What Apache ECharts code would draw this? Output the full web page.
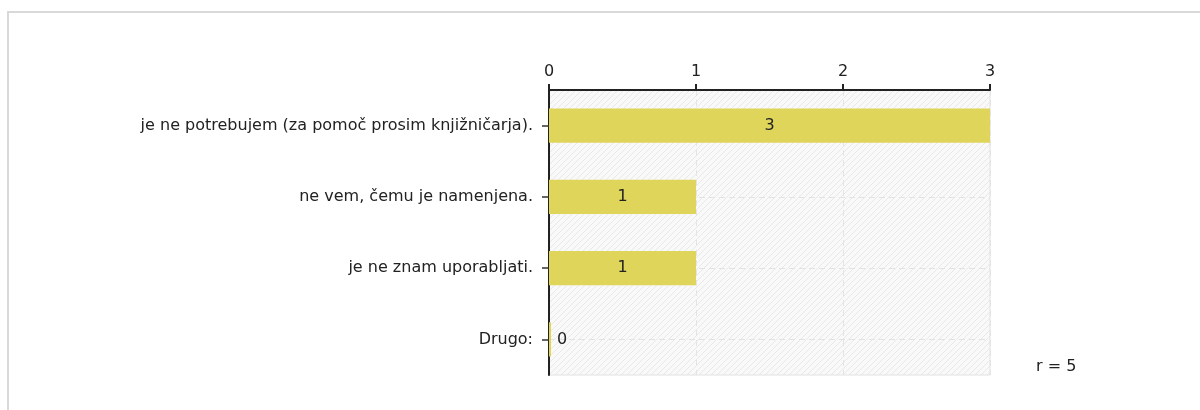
<!DOCTYPE html>
<html>
<head>
<meta charset="utf-8">
<script src="https://cdn.jsdelivr.net/npm/echarts@6/dist/echarts.min.js"></script>
<style>
html,body{margin:0;padding:0;background:#fff;}
#chart{width:1200px;height:410px;}
</style>
</head>
<body>
<div id="chart"></div>
<script>
const categories = [
  'je ne potrebujem (za pomoč prosim knjižničarja).',
  'ne vem, čemu je namenjena.',
  'je ne znam uporabljati.',
  'Drugo:'
];
const counts = [3, 1, 1, 0];
const xTicks = [0, 1, 2, 3];
const respondents = 5;

function hatch() {
  const c = document.createElement('canvas');
  c.width = 6; c.height = 6;
  const g = c.getContext('2d');
  g.fillStyle = '#f9f9f9';
  g.fillRect(0, 0, 6, 6);
  g.strokeStyle = '#e8e8e8';
  g.lineWidth = 1;
  g.beginPath();
  g.moveTo(-1, 7); g.lineTo(7, -1);
  g.moveTo(-1, 1); g.lineTo(1, -1);
  g.moveTo(5, 7); g.lineTo(7, 5);
  g.stroke();
  return c;
}

const font = 'DejaVu Sans';
const chart = echarts.init(document.getElementById('chart'), null, {renderer: 'canvas'});
chart.setOption({
  animation: false,
  backgroundColor: '#fff',
  textStyle: {fontFamily: font},
  graphic: [{
    type: 'rect', z: -10, silent: true,
    shape: {x: 8, y: 12, width: 1250, height: 450},
    style: {fill: 'none', stroke: '#d9d9d9', lineWidth: 2}
  }, {
    type: 'text', left: 1036, top: 359,
    style: {text: 'r = ' + respondents, font: '16px "DejaVu Sans"', fill: '#222'}
  }],
  grid: {
    left: 549, right: 210, top: 90, bottom: 35,
    show: true,
    backgroundColor: {image: hatch(), repeat: 'repeat'},
    borderColor: '#e2e2e2', borderWidth: 1
  },
  xAxis: {
    type: 'value', position: 'top', min: xTicks[0], max: xTicks[xTicks.length - 1], interval: 1,
    axisLine: {show: true, lineStyle: {color: '#222', width: 2}},
    axisTick: {show: true, length: 6, lineStyle: {color: '#222', width: 2}},
    axisLabel: {color: '#222', fontSize: 16, margin: 10, fontFamily: font},
    splitLine: {show: true, lineStyle: {color: '#e4e4e4', type: [6, 4]}}
  },
  yAxis: {
    type: 'category', inverse: true, data: categories,
    axisLine: {show: true, lineStyle: {color: '#222', width: 2}},
    axisTick: {show: true, alignWithLabel: true, length: 7, lineStyle: {color: '#333', width: 1.5}},
    axisLabel: {color: '#222', fontSize: 16, margin: 16, fontFamily: font},
    splitLine: {show: false}
  },
  series: [{
    type: 'bar',
    barWidth: '48%',
    barMinHeight: 2,
    itemStyle: {color: '#e0d55b'},
    label: {show: true, position: 'inside', color: '#222', fontSize: 16, fontFamily: font},
    data: counts.map(v => v === 0 ? {value: v, label: {position: 'right', distance: 6}} : v),
    markLine: {
      silent: true, z: 1, symbol: 'none',
      label: {show: false},
      lineStyle: {color: '#e2e2e2', type: [6, 4], width: 1},
      data: categories.map(c => ({yAxis: c}))
    }
  }]
});
</script>
</body>
</html>
